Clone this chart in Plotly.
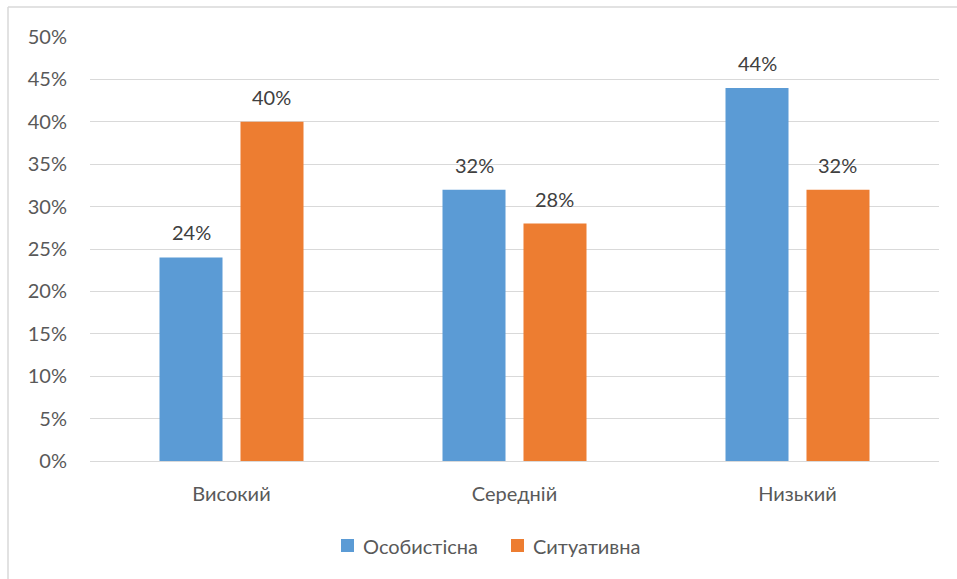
import plotly.graph_objects as go

categories = ["Високий", "Середній", "Низький"]
personal = [24, 32, 44]
situational = [40, 28, 32]
series_names = ["Особистісна", "Ситуативна"]
colors = ["#5B9BD5", "#ED7D31"]
tick_vals = [0, 5, 10, 15, 20, 25, 30, 35, 40, 45, 50]
tick_text = [f"{v}%" for v in tick_vals]

W, H = 957, 579
L, R, T, B = 90, 18, 37, 118
FONT = "Lato, 'Open Sans', sans-serif"
BARGAP, GROUPGAP = 0.4276, 0.222

pw, ph = W - L - R, H - T - B
cat_w = pw / len(categories)
slot = cat_w * (1 - BARGAP) / 2  # width of each series' slot inside a group

fig = go.Figure()
for name, vals, color in [
    (series_names[0], personal, colors[0]),
    (series_names[1], situational, colors[1]),
]:
    fig.add_trace(go.Bar(
        x=categories, y=vals, name=name, marker_color=color,
        marker_line_width=0, showlegend=False,
    ))

# value labels above each bar
annotations = []
for k, vals in enumerate([personal, situational]):
    shift = (k - 0.5) * slot
    for c, v in zip(categories, vals):
        annotations.append(dict(
            x=c, y=v, xref="x", yref="y", text=f"{v}%", showarrow=False,
            xshift=shift, yshift=11, yanchor="bottom",
            font=dict(size=20, color="#404040", family=FONT),
        ))

# legend drawn as coloured squares with labels below the plot
legend_items = [(series_names[0], colors[0], 341, 361), (series_names[1], colors[1], 511, 531)]
shapes = []
for name, color, sx, tx in legend_items:
    shapes.append(dict(
        type="rect", xref="paper", yref="paper",
        x0=(sx - L) / pw, x1=(sx + 13 - L) / pw,
        y0=(H - B - 539) / ph, y1=(H - B - 552) / ph,
        fillcolor=color, line=dict(width=0),
    ))
    annotations.append(dict(
        x=(tx - L) / pw, y=(H - B - 546) / ph, xref="paper", yref="paper",
        text=name, showarrow=False, xanchor="left", yanchor="middle",
        font=dict(size=20, color="#595959", family=FONT),
    ))

# chart border (top and left edges)
shapes += [
    dict(type="line", xref="paper", yref="paper",
         x0=(8 - L) / pw, x1=(W - L) / pw, y0=(H - B - 7) / ph, y1=(H - B - 7) / ph,
         line=dict(color="#D9D9D9", width=1.5)),
    dict(type="line", xref="paper", yref="paper",
         x0=(8 - L) / pw, x1=(8 - L) / pw, y0=(H - B - 7) / ph, y1=(H - B - 580) / ph,
         line=dict(color="#D9D9D9", width=1.5)),
]

fig.update_layout(
    width=W, height=H,
    margin=dict(l=L, r=R, t=T, b=B),
    paper_bgcolor="white", plot_bgcolor="white",
    barmode="group", bargap=BARGAP, bargroupgap=GROUPGAP,
    font=dict(family=FONT, color="#595959", size=20),
    showlegend=False,
    xaxis=dict(showgrid=False, showline=False, ticks="",
               tickfont=dict(size=20, color="#595959"), ticklabelstandoff=19),
    yaxis=dict(range=[0, 50], tickvals=tick_vals, ticktext=tick_text,
               showgrid=True, gridcolor="#D9D9D9", gridwidth=1,
               zeroline=True, zerolinecolor="#D9D9D9", zerolinewidth=1,
               tickfont=dict(size=20, color="#595959"), ticks="",
               ticklabelstandoff=22),
    annotations=annotations,
    shapes=shapes,
)
fig.write_html("out.html")
